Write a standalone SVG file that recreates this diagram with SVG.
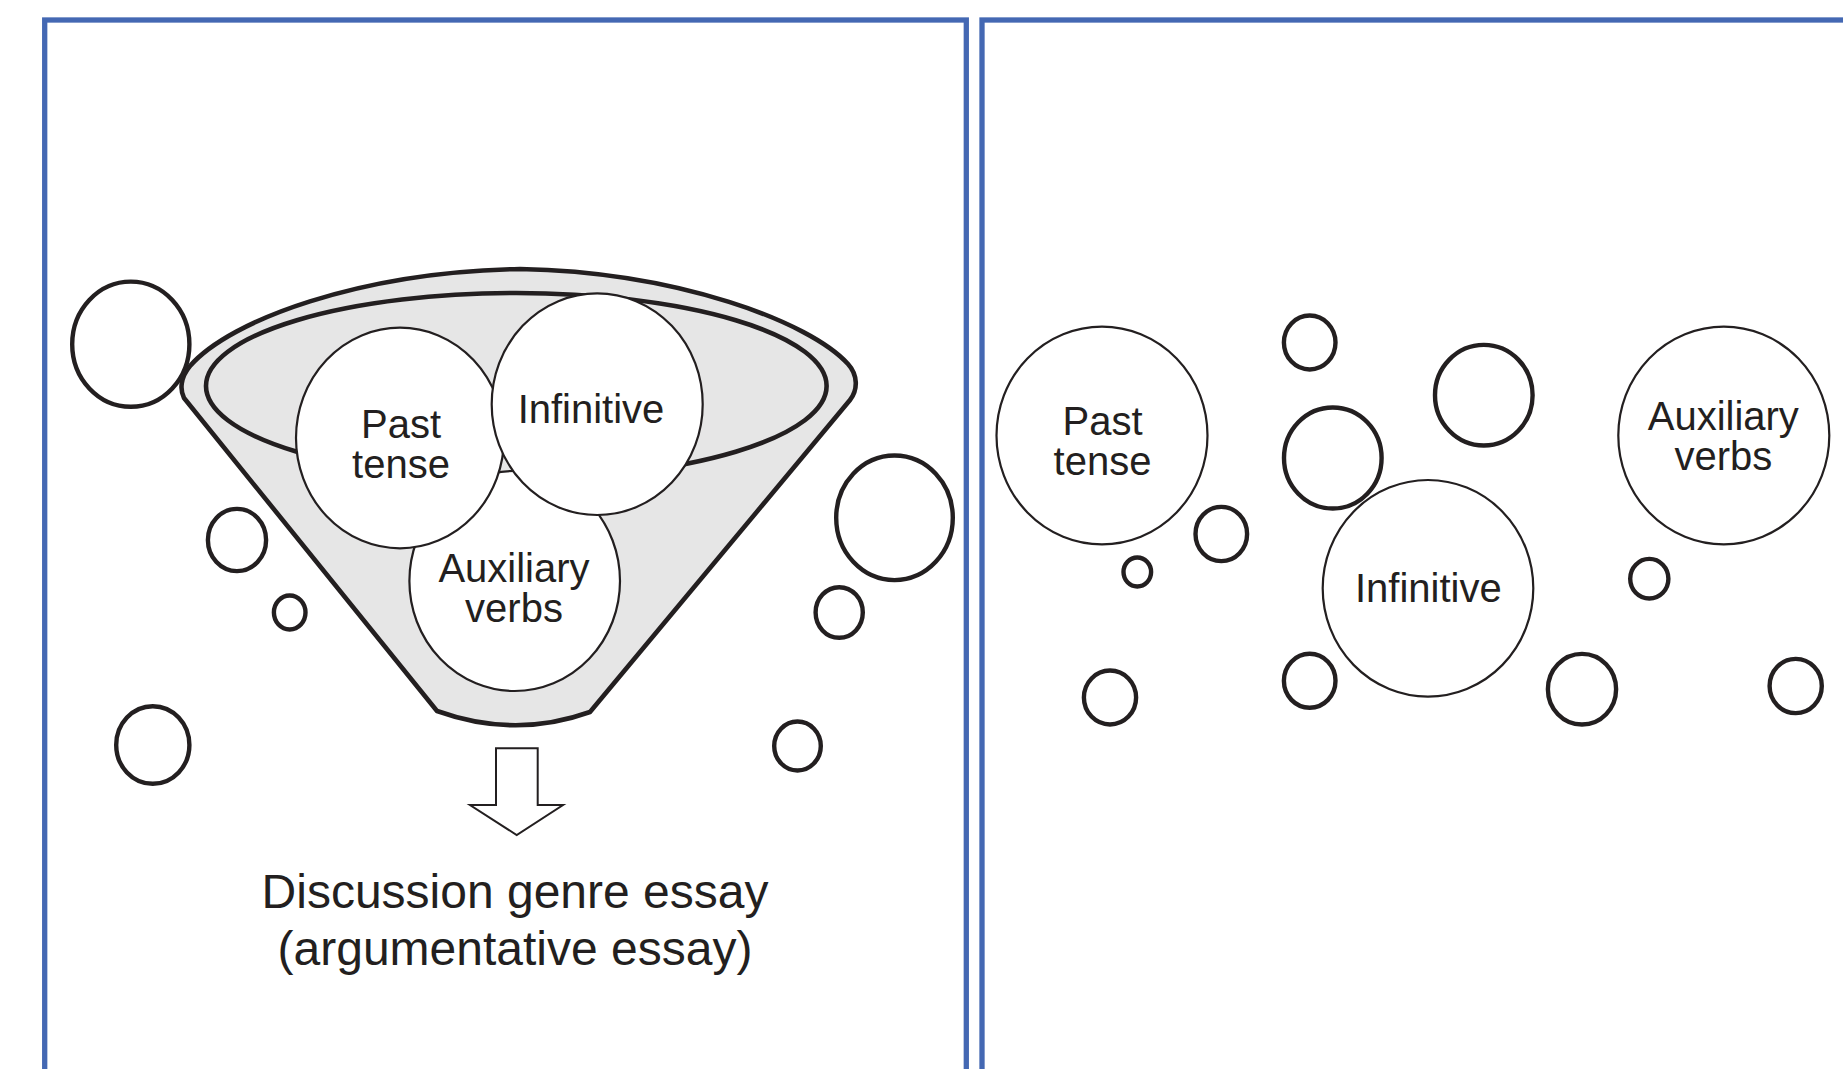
<svg xmlns="http://www.w3.org/2000/svg" width="1843" height="1069" viewBox="0 0 1843 1069">
<style>
.panel{fill:none;stroke:#4468b3;stroke-width:5.3}
.node{fill:#fff;stroke:#231f20;stroke-width:2.2}
.bub{fill:none;stroke:#231f20;stroke-width:4.4}
.lbl{font-family:"Liberation Sans",Arial,Helvetica,sans-serif;font-size:40px;fill:#231f20;text-anchor:middle}
.cap{font-family:"Liberation Sans",Arial,Helvetica,sans-serif;font-size:48px;fill:#231f20;text-anchor:middle}
</style>
<rect width="1843" height="1069" fill="#fff"/>
<g id="panel-left"><rect class="panel" x="44.7" y="20" width="921.6" height="1100"/></g>
<g id="panel-right"><rect class="panel" x="982" y="20" width="950" height="1100"/></g>

<g id="funnel">
<path d="M437,711 L184,398 C180,390 180,378 190,366 C230,320 360,272 520,269 C678,272 810,322 848,364 C858,375 858,390 850,400 L590,712 C540,730 490,730 437,711 Z" fill="#e6e6e6" stroke="#231f20" stroke-width="4.6" stroke-linejoin="round"/>
<ellipse cx="516.3" cy="386" rx="310.3" ry="93" fill="#e6e6e6" stroke="#231f20" stroke-width="4.6"/>
</g>

<g id="node-aux-left"><ellipse class="node" cx="514.7" cy="581" rx="105.3" ry="110"/>
<text class="lbl" x="514" y="581.7">Auxiliary</text><text class="lbl" x="514" y="621.7">verbs</text></g>
<g id="node-past-left"><ellipse class="node" cx="400" cy="438" rx="104" ry="110.3"/>
<text class="lbl" x="401" y="438.3">Past</text><text class="lbl" x="401" y="478.3">tense</text></g>
<g id="node-inf-left"><ellipse class="node" cx="597.2" cy="404.2" rx="105.5" ry="110.8"/>
<text class="lbl" x="591" y="423.3">Infinitive</text></g>

<g id="bubbles-left">
<ellipse class="bub" cx="130.8" cy="344.2" rx="58.6" ry="62.6"/>
<ellipse class="bub" cx="237" cy="540" rx="29.1" ry="31.1"/>
<ellipse class="bub" cx="289.7" cy="612.5" rx="15.8" ry="17"/>
<ellipse class="bub" cx="152.8" cy="745" rx="36.6" ry="38.8"/>
<ellipse class="bub" cx="894.5" cy="517.8" rx="58.3" ry="62.3"/>
<ellipse class="bub" cx="839.2" cy="612.5" rx="23.6" ry="25.3"/>
<ellipse class="bub" cx="797.5" cy="746" rx="23.3" ry="24.5"/>
</g>

<g id="connectors">
<path d="M496,748.3 L537.7,748.3 L537.7,805 L563,805 L516.7,835 L470,805 L496,805 Z" fill="#fff" stroke="#231f20" stroke-width="2"/>
</g>

<g id="caption">
<text class="cap" x="515" y="908">Discussion genre essay</text>
<text class="cap" x="515" y="965">(argumentative essay)</text>
</g>

<g id="node-past-right"><ellipse class="node" cx="1102" cy="435.5" rx="105.5" ry="108.8"/>
<text class="lbl" x="1102.5" y="435">Past</text><text class="lbl" x="1102.5" y="475">tense</text></g>
<g id="node-inf-right"><ellipse class="node" cx="1428" cy="588.3" rx="105.3" ry="108.3"/>
<text class="lbl" x="1428.3" y="601.7">Infinitive</text></g>
<g id="node-aux-right"><ellipse class="node" cx="1723.8" cy="435.5" rx="105.5" ry="108.8"/>
<text class="lbl" x="1723.3" y="430">Auxiliary</text><text class="lbl" x="1723.3" y="470">verbs</text></g>

<g id="bubbles-right">
<ellipse class="bub" cx="1309.7" cy="342.5" rx="25.8" ry="27"/>
<ellipse class="bub" cx="1332.8" cy="458" rx="48.8" ry="50.5"/>
<ellipse class="bub" cx="1221.3" cy="534" rx="25.8" ry="27.1"/>
<ellipse class="bub" cx="1137.3" cy="572" rx="13.8" ry="14.5"/>
<ellipse class="bub" cx="1110" cy="697.5" rx="26.1" ry="27"/>
<ellipse class="bub" cx="1309.7" cy="680.8" rx="25.8" ry="27"/>
<ellipse class="bub" cx="1483.8" cy="395.2" rx="48.8" ry="50.3"/>
<ellipse class="bub" cx="1649.3" cy="578.7" rx="19.1" ry="19.8"/>
<ellipse class="bub" cx="1582" cy="689.2" rx="34.1" ry="35.3"/>
<ellipse class="bub" cx="1795.7" cy="686" rx="26.1" ry="27.1"/>
</g>
</svg>
